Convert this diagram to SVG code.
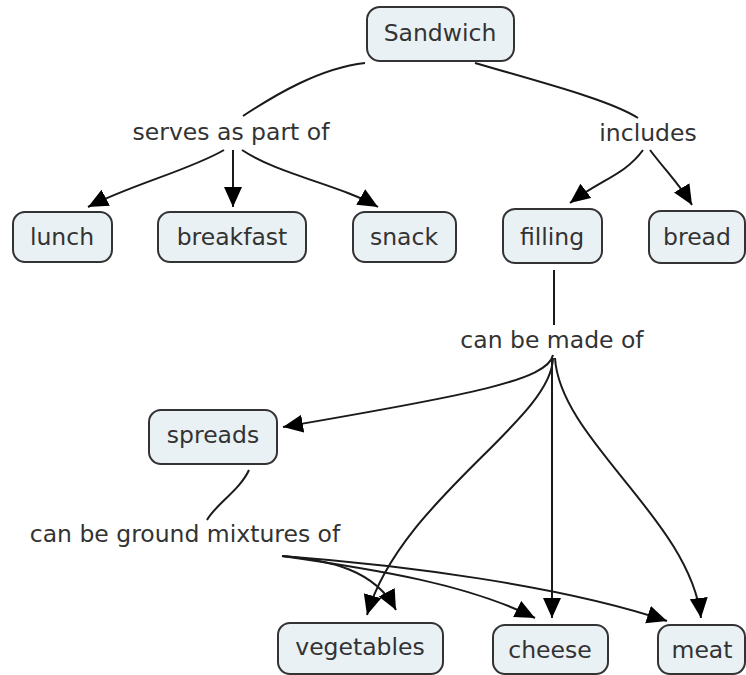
<svg xmlns="http://www.w3.org/2000/svg" width="746" height="675" viewBox="0 0 746 675">
<defs>
<style>
.node rect{fill:#eaf1f4;stroke:#333;stroke-width:2}
text{font-family:"DejaVu Sans","Verdana",sans-serif;font-size:23.5px;fill:#333;text-anchor:middle}
.conn path{fill:none;stroke:#1a1a1a;stroke-width:2}
</style>
<marker id="ah" markerUnits="userSpaceOnUse" markerWidth="22" markerHeight="20" refX="20" refY="9" orient="auto">
<path d="M0,0 L20,9 L0,18 Z" fill="#000"/>
</marker>
</defs>
<rect width="746" height="675" fill="#fff"/>
<g class="conn">
<path d="M 365 63 C 320 68, 275 95, 243 116"/>
<path d="M 475 63 C 540 82, 610 100, 638 118"/>
<path d="M 224 150 C 190 170, 130 185, 88 207" marker-end="url(#ah)"/>
<path d="M 233 150 L 233 207" marker-end="url(#ah)"/>
<path d="M 242 150 C 280 175, 340 185, 378 207" marker-end="url(#ah)"/>
<path d="M 643 150 C 625 175, 600 180, 570 203" marker-end="url(#ah)"/>
<path d="M 650 150 C 665 170, 680 185, 692 205" marker-end="url(#ah)"/>
<path d="M 554 270 L 554 325"/>
<path d="M 553 355 C 548 380, 470 395, 283 427" marker-end="url(#ah)"/>
<path d="M 553 358 C 552 420, 400 500, 367 615" marker-end="url(#ah)"/>
<path d="M 552 358 L 552 618" marker-end="url(#ah)"/>
<path d="M 555 358 C 560 440, 690 520, 701 618" marker-end="url(#ah)"/>
<path d="M 249 470 C 240 490, 215 505, 207 520"/>
<path d="M 282 556 C 330 560, 375 570, 396 610" marker-end="url(#ah)"/>
<path d="M 282 556 C 380 570, 470 585, 535 618" marker-end="url(#ah)"/>
<path d="M 282 556 C 400 565, 560 585, 667 621" marker-end="url(#ah)"/>
</g>
<g id="lbl-serves"><text x="231" y="140">serves as part of</text></g>
<g id="lbl-includes"><text x="648" y="141">includes</text></g>
<g id="lbl-made"><text x="552" y="348">can be made of</text></g>
<g id="lbl-ground"><text x="185" y="542">can be ground mixtures of</text></g>
<g id="sandwich" class="node"><rect x="367" y="7" width="147" height="54" rx="13"/><text x="440" y="41">Sandwich</text></g>
<g id="lunch" class="node"><rect x="13" y="212" width="99" height="50" rx="12"/><text x="62" y="245">lunch</text></g>
<g id="breakfast" class="node"><rect x="158" y="212" width="148" height="50" rx="12"/><text x="232" y="245">breakfast</text></g>
<g id="snack" class="node"><rect x="353" y="212" width="103" height="50" rx="12"/><text x="404" y="245">snack</text></g>
<g id="filling" class="node"><rect x="503" y="209" width="99" height="54" rx="12"/><text x="552" y="245">filling</text></g>
<g id="bread" class="node"><rect x="649" y="211" width="96" height="52" rx="12"/><text x="697" y="245">bread</text></g>
<g id="spreads" class="node"><rect x="149" y="410" width="128" height="54" rx="12"/><text x="213" y="443">spreads</text></g>
<g id="vegetables" class="node"><rect x="278" y="623" width="165" height="51" rx="12"/><text x="360" y="655">vegetables</text></g>
<g id="cheese" class="node"><rect x="493" y="625" width="115" height="49" rx="12"/><text x="550" y="658">cheese</text></g>
<g id="meat" class="node"><rect x="658" y="625" width="87" height="49" rx="12"/><text x="702" y="658">meat</text></g>
</svg>
